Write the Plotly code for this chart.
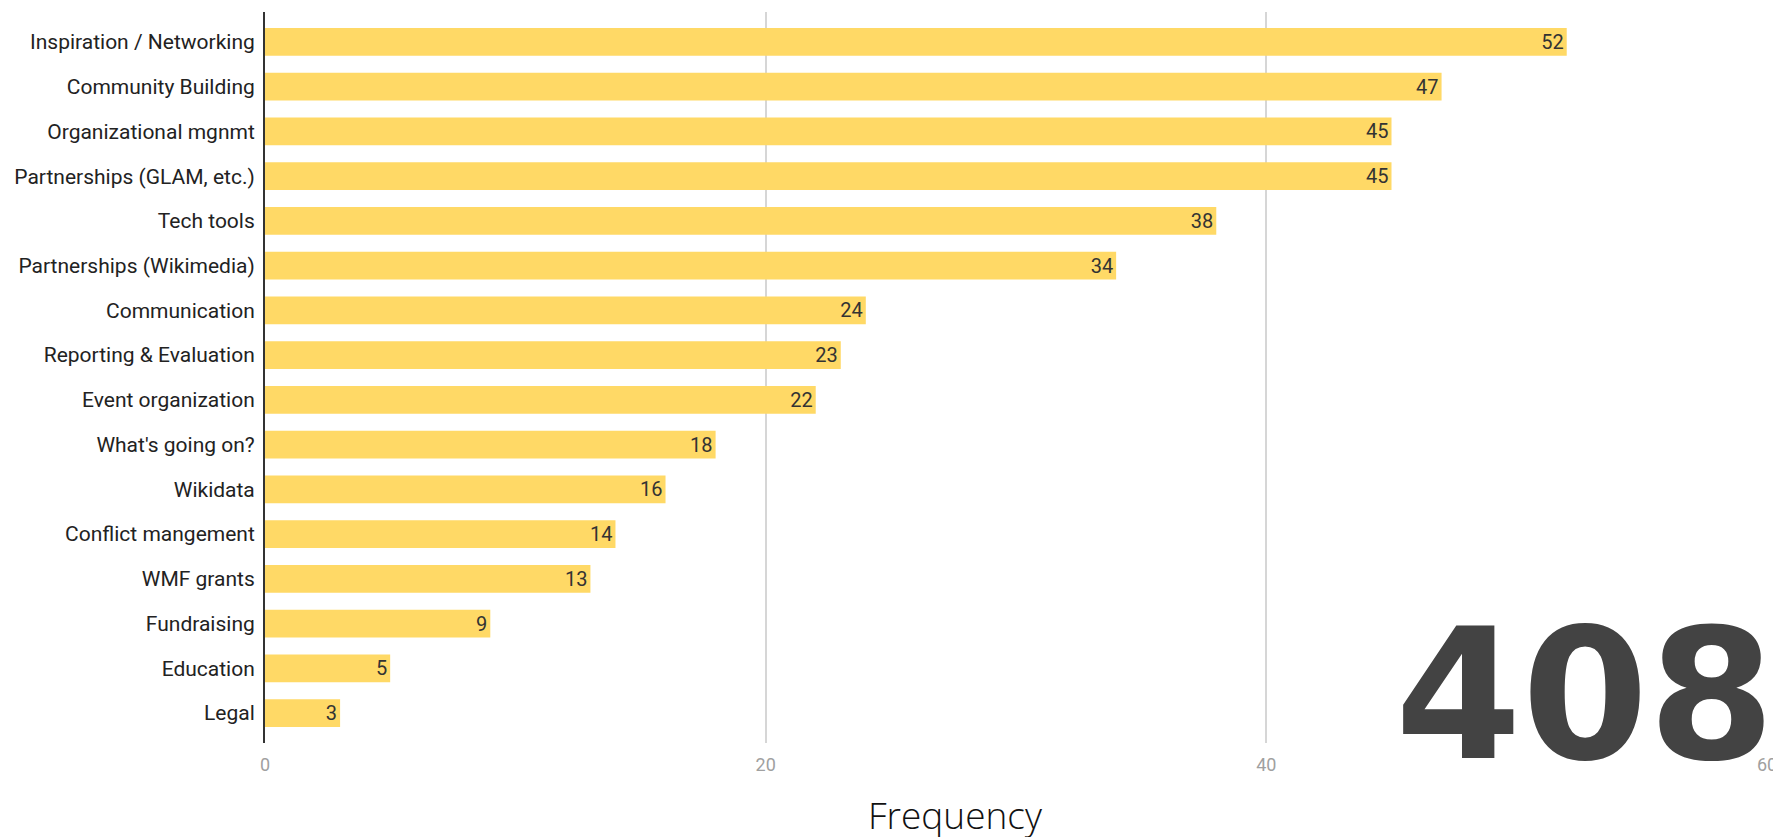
import plotly.graph_objects as go

categories = [
    "Inspiration / Networking", "Community Building", "Organizational mgnmt",
    "Partnerships (GLAM, etc.)", "Tech tools", "Partnerships (Wikimedia)",
    "Communication", "Reporting & Evaluation", "Event organization",
    "What's going on?", "Wikidata", "Conflict mangement", "WMF grants",
    "Fundraising", "Education", "Legal",
]
values = [52, 47, 45, 45, 38, 34, 24, 23, 22, 18, 16, 14, 13, 9, 5, 3]
x_ticks = [0, 20, 40, 60]
total_label = "408"
axis_title = "Frequency"

# page body adds an 8px margin, so the figure is 8px smaller than the window
W, H = 1773, 829
L, R, T, B = 257, 11, 4, 94
PW, PH = W - L - R, H - T - B

fig = go.Figure()
fig.add_trace(go.Bar(
    x=values, y=categories, orientation="h",
    marker=dict(color="#FFD966", line=dict(width=0)),
    width=0.62,
    text=[str(v) for v in values],
    textposition="inside", insidetextanchor="end",
    textangle=0, constraintext="none",
    textfont=dict(family="Roboto", size=20, color="#333333"),
    cliponaxis=False,
))

fig.update_layout(
    width=W, height=H,
    margin=dict(l=L, r=R, t=T, b=B),
    paper_bgcolor="white", plot_bgcolor="white",
    showlegend=False,
    font=dict(family="Roboto", color="#222222"),
    uniformtext=dict(mode=False),
    xaxis=dict(
        range=[0, 60], tickvals=x_ticks, ticktext=[str(v) for v in x_ticks],
        showgrid=True, gridcolor="#d6d6d6", gridwidth=1.5,
        zeroline=False, showline=False,
        tickfont=dict(family="Roboto", size=18, color="#a0a0a0"),
        ticks="", ticklabelstandoff=9,
    ),
    yaxis=dict(
        type="category", range=[15.67, -0.67],
        showgrid=False, zeroline=False,
        showline=True, linecolor="#333333", linewidth=2,
        tickfont=dict(family="Roboto", size=21, color="#222222"),
        ticks="", ticklabelstandoff=4,
    ),
)

fig.add_annotation(
    text=total_label, xref="paper", yref="paper",
    x=(1387 - L) / PW, y=(H - B - 687) / PH,
    xanchor="left", yanchor="middle", showarrow=False,
    font=dict(family="DejaVu Sans", size=182, color="#434343", weight="bold"),
)
fig.add_annotation(
    text=axis_title, xref="paper", yref="paper",
    x=(949 - L) / PW, y=-(806 - (H - B)) / PH,
    xanchor="center", yanchor="middle", showarrow=False,
    font=dict(family="Open Sans", size=37, color="#111111", weight=300),
)

fig.write_html("out.html")
